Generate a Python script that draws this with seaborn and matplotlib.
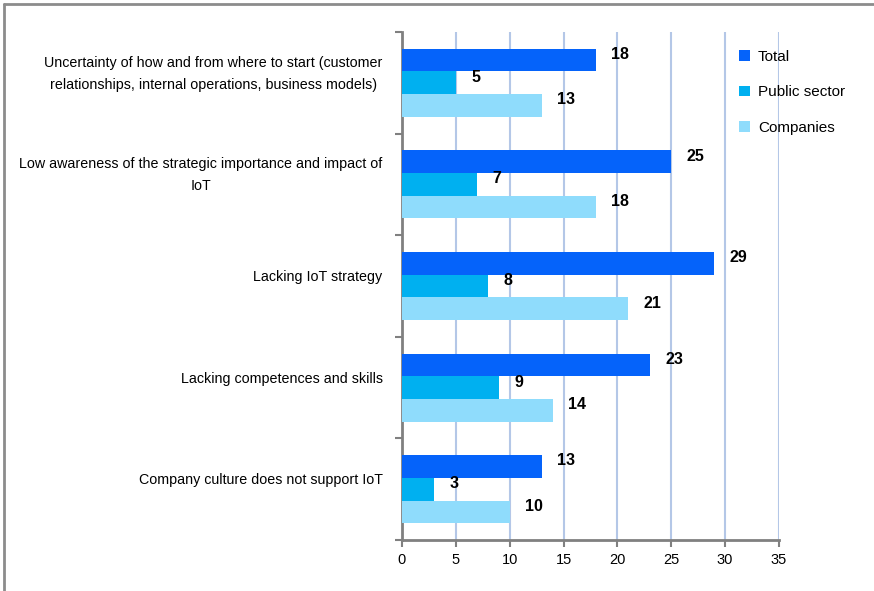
import matplotlib
matplotlib.use("Agg")
import matplotlib.pyplot as plt
import seaborn as sns
import pandas as pd
from matplotlib.lines import Line2D
from matplotlib.patches import Patch
from matplotlib.ticker import FixedLocator

categories = [
    "Uncertainty of how and from where to start (customer\nrelationships, internal operations, business models)",
    "Low awareness of the strategic importance and impact of\nIoT",
    "Lacking IoT strategy",
    "Lacking competences and skills",
    "Company culture does not support IoT",
]
series_names = ["Total", "Public sector", "Companies"]
total = [18, 25, 29, 23, 13]
public_sector = [5, 7, 8, 9, 3]
companies = [13, 18, 21, 14, 10]
x_ticks = [0, 5, 10, 15, 20, 25, 30, 35]
colors = ["#0563FA", "#00B0F0", "#8FDCFC"]

sns.set_theme(style="white")
plt.rcParams["font.family"] = ["Liberation Sans", "DejaVu Sans"]
plt.rcParams["text.color"] = "black"
plt.rcParams["xtick.color"] = "black"
plt.rcParams["ytick.color"] = "black"

df = pd.DataFrame({
    "category": categories * 3,
    "series": sum([[s] * len(categories) for s in series_names], []),
    "value": total + public_sector + companies,
})

fig = plt.figure(figsize=(8.74, 5.91), dpi=100)
ax = fig.add_axes([402 / 874, 1 - 540 / 591, 377 / 874, 508 / 591])

sns.barplot(data=df, x="value", y="category", hue="series", orient="h",
            palette=colors, saturation=1, width=0.67, ax=ax, legend=False,
            zorder=3, linewidth=0)

# value labels
for container in ax.containers:
    for bar in container:
        v = bar.get_width()
        ax.annotate(f"{v:g}", (v, bar.get_y() + bar.get_height() / 2),
                    xytext=(11, 4), textcoords="offset points",
                    ha="left", va="center", fontsize=11.5, fontweight="bold",
                    color="black")

ax.set_xlim(0, 35)
ax.set_ylim(4.5, -0.5)
ax.set_xticks(x_ticks)
ax.set_xticklabels([str(t) for t in x_ticks], fontsize=10.5)
ax.set_xlabel("")
ax.set_ylabel("")

# category labels sit slightly above the centre of each group
ax.tick_params(axis="y", which="major", length=0, labelleft=False)
for i, cat in enumerate(categories):
    ax.annotate(cat, (0, i), xytext=(-14, 6.5), textcoords="offset points",
                ha="right", va="center", multialignment="center",
                fontsize=10.3, linespacing=1.75, color="black",
                annotation_clip=False)

ax.yaxis.set_minor_locator(FixedLocator([-0.5, 0.5, 1.5, 2.5, 3.5, 4.5]))
ax.tick_params(axis="y", which="minor", length=5, width=1.5, color="#808080",
               direction="out", left=True)
ax.tick_params(axis="x", length=5, width=1.5, color="#808080", direction="out",
               bottom=True, pad=4, labelcolor="black")

# grid
ax.grid(axis="x", color="#B4C7E7", linewidth=1.5, zorder=0)
ax.set_axisbelow(True)
for s in ["top", "right"]:
    ax.spines[s].set_visible(False)
for s in ["left", "bottom"]:
    ax.spines[s].set_color("#808080")
    ax.spines[s].set_linewidth(2)

handles = [Patch(facecolor=c, edgecolor="none") for c in colors]
leg = fig.legend(handles, series_names, loc="upper left",
                 bbox_to_anchor=(739 / 874, 1 - 50 / 591), frameon=False,
                 fontsize=11, handlelength=0.7, handleheight=0.7,
                 handletextpad=0.55, labelspacing=1.4, borderaxespad=0,
                 borderpad=0)

# outer frame
fig.add_artist(Line2D([4 / 874, 4 / 874], [0, 1 - 4 / 591], color="#8C8C8C",
                      linewidth=2, transform=fig.transFigure))
fig.add_artist(Line2D([4 / 874, 1], [1 - 4 / 591, 1 - 4 / 591], color="#8C8C8C",
                      linewidth=2, transform=fig.transFigure))

fig.savefig("out.png", dpi=100)
